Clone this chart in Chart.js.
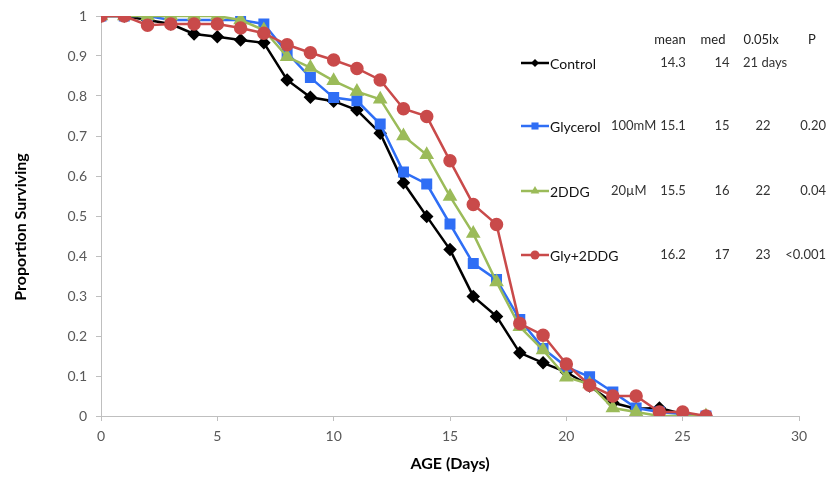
<!DOCTYPE html>
<html>
<head>
<meta charset="utf-8">
<script src="https://cdn.jsdelivr.net/npm/chart.js@4"></script>
<style>
  body { margin: 0; background: #fff; }
  #chart { display: block; }
</style>
</head>
<body>
<canvas id="chart" width="835" height="477"></canvas>
<script>
// ages in days
const ages = [0, 1, 2, 3, 4, 5, 6, 7, 8, 9, 10, 11, 12, 13, 14, 15, 16, 17, 18, 19, 20, 21, 22, 23, 24, 25, 26];

// proportion surviving per group
const control = [1, 1, 0.99, 0.98, 0.955, 0.948, 0.94, 0.933, 0.84, 0.797, 0.787, 0.765, 0.707, 0.583, 0.499, 0.416, 0.299, 0.249, 0.158, 0.133, 0.11, 0.075, 0.033, 0.018, 0.02, 0.005, 0];
const glycerol = [1, 1, 1, 0.99, 0.99, 0.99, 0.99, 0.98, 0.908, 0.846, 0.796, 0.788, 0.73, 0.61, 0.58, 0.48, 0.381, 0.341, 0.241, 0.169, 0.123, 0.098, 0.06, 0.02, 0.01, 0.005, 0];
const ddg = [1, 1, 1, 1, 1, 1, 0.99, 0.965, 0.898, 0.871, 0.838, 0.811, 0.792, 0.70, 0.653, 0.549, 0.456, 0.335, 0.223, 0.165, 0.097, 0.08, 0.02, 0.01, 0, 0, 0];
const glyDdg = [1, 1, 0.977, 0.98, 0.98, 0.98, 0.97, 0.957, 0.928, 0.908, 0.89, 0.869, 0.84, 0.768, 0.749, 0.638, 0.529, 0.479, 0.231, 0.202, 0.13, 0.077, 0.05, 0.05, 0.01, 0.01, 0];

const seriesNames = ['Control', 'Glycerol', '2DDG', 'Gly+2DDG'];

// stats table next to the legend
const tableHeader = ['mean', 'med', '0.05lx', 'P'];
const concs = ['', '100mM', '20\u00b5M', ''];
const means = ['14.3', '15.1', '15.5', '16.2'];
const medians = ['14', '15', '16', '17'];
const lx = ['21 days', '22', '22', '23'];
const pvals = ['', '0.20', '0.04', '<0.001'];

const yTicks = [0, 0.1, 0.2, 0.3, 0.4, 0.5, 0.6, 0.7, 0.8, 0.9, 1];
const yTickLabels = ['0', '0.1', '0.2', '0.3', '0.4', '0.5', '0.6', '0.7', '0.8', '0.9', '1'];

const FONT = 'Lato, "Open Sans", sans-serif';

const pts = vals => ages.map((a, i) => ({ x: a, y: vals[i] }));

// legend, stats table and y title drawn by hand, where the original has them
const legendTable = {
    id: 'legendTable',
    afterDraw(chart) {
        const ctx = chart.ctx;
        const rows = [63, 126, 191, 255];
        ctx.save();
        ctx.textBaseline = 'middle';

        // y title sits a bit below the axis middle in the original
        ctx.save();
        ctx.translate(21, 227);
        ctx.rotate(-Math.PI / 2);
        ctx.textAlign = 'center';
        ctx.fillStyle = '#000';
        ctx.font = 'bold 16px ' + FONT;
        ctx.fillText('Proportion Surviving', 0, 0);
        ctx.restore();

        ctx.fillStyle = '#222';
        ctx.font = '13px ' + FONT;
        ctx.textAlign = 'center';
        ctx.fillText(tableHeader[0], 670, 40);
        ctx.fillText(tableHeader[1], 713, 40);
        ctx.fillText(tableHeader[2], 761, 40);
        ctx.fillText(tableHeader[3], 812, 40);

        chart.data.datasets.forEach((ds, i) => {
            const y = rows[i];
            ctx.strokeStyle = ds.borderColor;
            ctx.lineWidth = 2.5;
            ctx.beginPath();
            ctx.moveTo(521, y);
            ctx.lineTo(549, y);
            ctx.stroke();
            ctx.fillStyle = ds.pointBackgroundColor;
            Chart.helpers.drawPoint(ctx, {
                pointStyle: ds.pointStyle,
                radius: ds.pointRadius - 1,
                rotation: 0,
                borderWidth: 0
            }, 535, y);

            ctx.fillStyle = '#111';
            ctx.font = '14px ' + FONT;
            ctx.textAlign = 'left';
            ctx.fillText(seriesNames[i], 550, y + 1);

            ctx.fillStyle = '#333';
            ctx.font = '13px ' + FONT;
            ctx.fillText(concs[i], 611, y);
            ctx.textAlign = 'center';
            ctx.fillText(means[i], 673, y);
            ctx.fillText(medians[i], 722, y);
            if (i === 0) {
                ctx.textAlign = 'left';
                ctx.fillText(lx[i], 743, y);
            } else {
                ctx.fillText(lx[i], 763, y);
            }
            ctx.textAlign = 'right';
            ctx.fillText(pvals[i], 826, y);
        });
        ctx.restore();
    }
};

const ctx = document.getElementById('chart').getContext('2d');
new Chart(ctx, {
    type: 'line',
    data: {
        datasets: [
            {
                label: seriesNames[0],
                data: pts(control),
                borderColor: '#000000',
                backgroundColor: '#000000',
                pointBackgroundColor: '#000000',
                pointBorderColor: '#000000',
                pointStyle: 'rectRot',
                pointRadius: 5,
                borderWidth: 2.5,
                order: 4
            },
            {
                label: seriesNames[1],
                data: pts(glycerol),
                borderColor: '#2f6ef5',
                backgroundColor: '#2f6ef5',
                pointBackgroundColor: '#2f6ef5',
                pointBorderColor: '#2f6ef5',
                pointStyle: 'rect',
                pointRadius: 6,
                borderWidth: 2.5,
                order: 3
            },
            {
                label: seriesNames[2],
                data: pts(ddg),
                borderColor: '#9bbb59',
                backgroundColor: '#9bbb59',
                pointBackgroundColor: '#9bbb59',
                pointBorderColor: '#9bbb59',
                pointStyle: 'triangle',
                pointRadius: 6,
                borderWidth: 2.5,
                order: 2
            },
            {
                label: seriesNames[3],
                data: pts(glyDdg),
                borderColor: '#c94a4a',
                backgroundColor: '#c94a4a',
                pointBackgroundColor: '#c94a4a',
                pointBorderColor: '#c94a4a',
                pointStyle: 'circle',
                pointRadius: 5.5,
                borderWidth: 2.5,
                order: 1
            }
        ]
    },
    options: {
        responsive: false,
        animation: false,
        devicePixelRatio: 1,
        layout: { padding: { left: 0, top: 15, right: 36, bottom: 0 } },
        plugins: {
            legend: { display: false },
            tooltip: { enabled: false }
        },
        elements: { line: { tension: 0 } },
        scales: {
            x: {
                type: 'linear',
                min: 0,
                max: 30,
                ticks: {
                    stepSize: 5,
                    padding: 7,
                    color: '#595959',
                    font: { family: FONT, size: 14 }
                },
                grid: { drawOnChartArea: false, tickLength: 5, color: '#bfbfbf' },
                border: { color: '#bfbfbf' },
                title: {
                    display: true,
                    text: 'AGE (Days)',
                    color: '#000',
                    font: { family: FONT, size: 16, weight: 'bold' },
                    padding: { top: 0, bottom: 4 }
                },
                afterFit: s => { s.height = 61; }
            },
            y: {
                min: 0,
                max: 1,
                afterBuildTicks: s => { s.ticks = yTicks.map(v => ({ value: v })); },
                ticks: {
                    padding: 9,
                    color: '#595959',
                    font: { family: FONT, size: 14, lineHeight: 1 },
                    callback: (v, i) => yTickLabels[i]
                },
                grid: { drawOnChartArea: false, tickLength: 5, color: '#bfbfbf' },
                border: { color: '#bfbfbf' },
                afterFit: s => { s.width = 101; }
            }
        }
    },
    plugins: [legendTable]
});
</script>
</body>
</html>
